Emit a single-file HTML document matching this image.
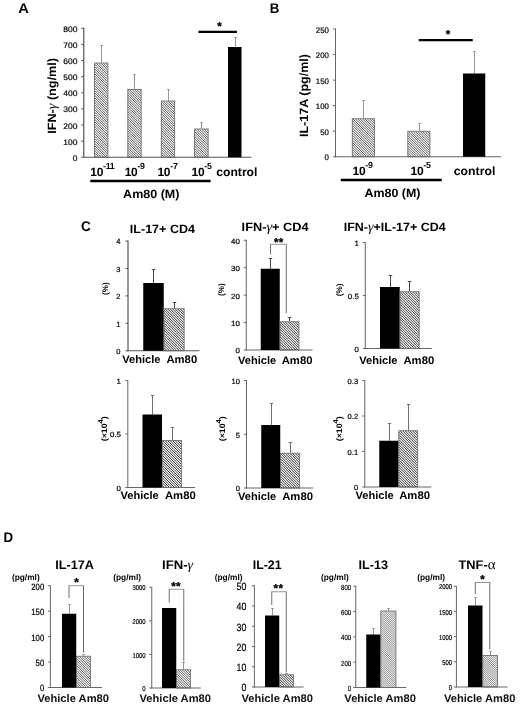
<!DOCTYPE html>
<html lang="en"><head><meta charset="utf-8"><title>Figure</title>
<style>html,body{margin:0;padding:0;background:#fff}svg{display:block}</style>
</head><body>
<svg width="520" height="707" viewBox="0 0 520 707" text-rendering="geometricPrecision" font-family='"Liberation Sans", sans-serif'>
<rect width="520" height="707" fill="#fff"/>
<text x="18.20" y="13.00" font-size="14" font-weight="bold" textLength="10.60" lengthAdjust="spacingAndGlyphs" fill="#000">A</text>
<line x1="83.75" y1="27.75" x2="83.75" y2="157.75" stroke="#555" stroke-width="1.2"/>
<line x1="83.25" y1="157.25" x2="251.50" y2="157.25" stroke="#555" stroke-width="1.2"/>
<line x1="81.25" y1="157.25" x2="83.75" y2="157.25" stroke="#555" stroke-width="1"/>
<text x="77.40" y="160.81" font-size="8" text-anchor="end" textLength="4.70" lengthAdjust="spacingAndGlyphs" fill="#000" stroke="#000" stroke-width="0.2">0</text>
<line x1="81.25" y1="141.12" x2="83.75" y2="141.12" stroke="#555" stroke-width="1"/>
<text x="77.40" y="144.69" font-size="8" text-anchor="end" textLength="14.10" lengthAdjust="spacingAndGlyphs" fill="#000" stroke="#000" stroke-width="0.2">100</text>
<line x1="81.25" y1="125.00" x2="83.75" y2="125.00" stroke="#555" stroke-width="1"/>
<text x="77.40" y="128.56" font-size="8" text-anchor="end" textLength="14.10" lengthAdjust="spacingAndGlyphs" fill="#000" stroke="#000" stroke-width="0.2">200</text>
<line x1="81.25" y1="108.88" x2="83.75" y2="108.88" stroke="#555" stroke-width="1"/>
<text x="77.40" y="112.44" font-size="8" text-anchor="end" textLength="14.10" lengthAdjust="spacingAndGlyphs" fill="#000" stroke="#000" stroke-width="0.2">300</text>
<line x1="81.25" y1="92.75" x2="83.75" y2="92.75" stroke="#555" stroke-width="1"/>
<text x="77.40" y="96.31" font-size="8" text-anchor="end" textLength="14.10" lengthAdjust="spacingAndGlyphs" fill="#000" stroke="#000" stroke-width="0.2">400</text>
<line x1="81.25" y1="76.62" x2="83.75" y2="76.62" stroke="#555" stroke-width="1"/>
<text x="77.40" y="80.19" font-size="8" text-anchor="end" textLength="14.10" lengthAdjust="spacingAndGlyphs" fill="#000" stroke="#000" stroke-width="0.2">500</text>
<line x1="81.25" y1="60.50" x2="83.75" y2="60.50" stroke="#555" stroke-width="1"/>
<text x="77.40" y="64.06" font-size="8" text-anchor="end" textLength="14.10" lengthAdjust="spacingAndGlyphs" fill="#000" stroke="#000" stroke-width="0.2">600</text>
<line x1="81.25" y1="44.38" x2="83.75" y2="44.38" stroke="#555" stroke-width="1"/>
<text x="77.40" y="47.94" font-size="8" text-anchor="end" textLength="14.10" lengthAdjust="spacingAndGlyphs" fill="#000" stroke="#000" stroke-width="0.2">700</text>
<line x1="81.25" y1="28.25" x2="83.75" y2="28.25" stroke="#555" stroke-width="1"/>
<text x="77.40" y="31.81" font-size="8" text-anchor="end" textLength="14.10" lengthAdjust="spacingAndGlyphs" fill="#000" stroke="#000" stroke-width="0.2">800</text>
<line x1="101.50" y1="45.00" x2="101.50" y2="62.50" stroke="#959595" stroke-width="1"/>
<line x1="100.20" y1="45.50" x2="102.80" y2="45.50" stroke="#959595" stroke-width="1"/>
<clipPath id="c1"><rect x="94.55" y="63.00" width="13.35" height="94.25"/></clipPath>
<path d="M0.00,63.00l94.25,94.25M2.40,63.00l94.25,94.25M4.80,63.00l94.25,94.25M7.20,63.00l94.25,94.25M9.60,63.00l94.25,94.25M12.00,63.00l94.25,94.25M14.40,63.00l94.25,94.25M16.80,63.00l94.25,94.25M19.20,63.00l94.25,94.25M21.60,63.00l94.25,94.25M24.00,63.00l94.25,94.25M26.40,63.00l94.25,94.25M28.80,63.00l94.25,94.25M31.20,63.00l94.25,94.25M33.60,63.00l94.25,94.25M36.00,63.00l94.25,94.25M38.40,63.00l94.25,94.25M40.80,63.00l94.25,94.25M43.20,63.00l94.25,94.25M45.60,63.00l94.25,94.25M48.00,63.00l94.25,94.25M50.40,63.00l94.25,94.25M52.80,63.00l94.25,94.25M55.20,63.00l94.25,94.25M57.60,63.00l94.25,94.25M60.00,63.00l94.25,94.25M62.40,63.00l94.25,94.25M64.80,63.00l94.25,94.25M67.20,63.00l94.25,94.25M69.60,63.00l94.25,94.25M72.00,63.00l94.25,94.25M74.40,63.00l94.25,94.25M76.80,63.00l94.25,94.25M79.20,63.00l94.25,94.25M81.60,63.00l94.25,94.25M84.00,63.00l94.25,94.25M86.40,63.00l94.25,94.25M88.80,63.00l94.25,94.25M91.20,63.00l94.25,94.25M93.60,63.00l94.25,94.25M96.00,63.00l94.25,94.25M98.40,63.00l94.25,94.25M100.80,63.00l94.25,94.25M103.20,63.00l94.25,94.25M105.60,63.00l94.25,94.25" stroke="#333" stroke-width="0.8" fill="none" clip-path="url(#c1)"/>
<rect x="94.55" y="63.00" width="13.35" height="94.25" fill="none" stroke="#6e6e6e" stroke-width="0.9"/>
<line x1="134.50" y1="74.00" x2="134.50" y2="89.00" stroke="#959595" stroke-width="1"/>
<line x1="133.20" y1="74.50" x2="135.80" y2="74.50" stroke="#959595" stroke-width="1"/>
<clipPath id="c2"><rect x="127.80" y="89.50" width="13.35" height="67.75"/></clipPath>
<path d="M60.00,89.50l67.75,67.75M62.40,89.50l67.75,67.75M64.80,89.50l67.75,67.75M67.20,89.50l67.75,67.75M69.60,89.50l67.75,67.75M72.00,89.50l67.75,67.75M74.40,89.50l67.75,67.75M76.80,89.50l67.75,67.75M79.20,89.50l67.75,67.75M81.60,89.50l67.75,67.75M84.00,89.50l67.75,67.75M86.40,89.50l67.75,67.75M88.80,89.50l67.75,67.75M91.20,89.50l67.75,67.75M93.60,89.50l67.75,67.75M96.00,89.50l67.75,67.75M98.40,89.50l67.75,67.75M100.80,89.50l67.75,67.75M103.20,89.50l67.75,67.75M105.60,89.50l67.75,67.75M108.00,89.50l67.75,67.75M110.40,89.50l67.75,67.75M112.80,89.50l67.75,67.75M115.20,89.50l67.75,67.75M117.60,89.50l67.75,67.75M120.00,89.50l67.75,67.75M122.40,89.50l67.75,67.75M124.80,89.50l67.75,67.75M127.20,89.50l67.75,67.75M129.60,89.50l67.75,67.75M132.00,89.50l67.75,67.75M134.40,89.50l67.75,67.75M136.80,89.50l67.75,67.75M139.20,89.50l67.75,67.75" stroke="#333" stroke-width="0.8" fill="none" clip-path="url(#c2)"/>
<rect x="127.80" y="89.50" width="13.35" height="67.75" fill="none" stroke="#6e6e6e" stroke-width="0.9"/>
<line x1="168.50" y1="89.00" x2="168.50" y2="100.50" stroke="#959595" stroke-width="1"/>
<line x1="167.20" y1="89.50" x2="169.80" y2="89.50" stroke="#959595" stroke-width="1"/>
<clipPath id="c3"><rect x="161.30" y="101.00" width="13.35" height="56.25"/></clipPath>
<path d="M103.20,101.00l56.25,56.25M105.60,101.00l56.25,56.25M108.00,101.00l56.25,56.25M110.40,101.00l56.25,56.25M112.80,101.00l56.25,56.25M115.20,101.00l56.25,56.25M117.60,101.00l56.25,56.25M120.00,101.00l56.25,56.25M122.40,101.00l56.25,56.25M124.80,101.00l56.25,56.25M127.20,101.00l56.25,56.25M129.60,101.00l56.25,56.25M132.00,101.00l56.25,56.25M134.40,101.00l56.25,56.25M136.80,101.00l56.25,56.25M139.20,101.00l56.25,56.25M141.60,101.00l56.25,56.25M144.00,101.00l56.25,56.25M146.40,101.00l56.25,56.25M148.80,101.00l56.25,56.25M151.20,101.00l56.25,56.25M153.60,101.00l56.25,56.25M156.00,101.00l56.25,56.25M158.40,101.00l56.25,56.25M160.80,101.00l56.25,56.25M163.20,101.00l56.25,56.25M165.60,101.00l56.25,56.25M168.00,101.00l56.25,56.25M170.40,101.00l56.25,56.25M172.80,101.00l56.25,56.25" stroke="#333" stroke-width="0.8" fill="none" clip-path="url(#c3)"/>
<rect x="161.30" y="101.00" width="13.35" height="56.25" fill="none" stroke="#6e6e6e" stroke-width="0.9"/>
<line x1="201.50" y1="122.00" x2="201.50" y2="128.50" stroke="#959595" stroke-width="1"/>
<line x1="200.20" y1="122.50" x2="202.80" y2="122.50" stroke="#959595" stroke-width="1"/>
<clipPath id="c4"><rect x="194.55" y="129.00" width="13.60" height="28.25"/></clipPath>
<path d="M165.60,129.00l28.25,28.25M168.00,129.00l28.25,28.25M170.40,129.00l28.25,28.25M172.80,129.00l28.25,28.25M175.20,129.00l28.25,28.25M177.60,129.00l28.25,28.25M180.00,129.00l28.25,28.25M182.40,129.00l28.25,28.25M184.80,129.00l28.25,28.25M187.20,129.00l28.25,28.25M189.60,129.00l28.25,28.25M192.00,129.00l28.25,28.25M194.40,129.00l28.25,28.25M196.80,129.00l28.25,28.25M199.20,129.00l28.25,28.25M201.60,129.00l28.25,28.25M204.00,129.00l28.25,28.25M206.40,129.00l28.25,28.25" stroke="#333" stroke-width="0.8" fill="none" clip-path="url(#c4)"/>
<rect x="194.55" y="129.00" width="13.60" height="28.25" fill="none" stroke="#6e6e6e" stroke-width="0.9"/>
<line x1="235.50" y1="37.00" x2="235.50" y2="47.00" stroke="#959595" stroke-width="1"/>
<line x1="234.20" y1="37.50" x2="236.80" y2="37.50" stroke="#959595" stroke-width="1"/>
<rect x="228.00" y="47.00" width="13.50" height="110.25" fill="#000"/>
<text x="56.00" y="133.75" font-size="12" font-weight="bold" textLength="75.75" lengthAdjust="spacingAndGlyphs" transform="rotate(-90 56.00 133.75)" fill="#000">IFN-<tspan font-family="Liberation Serif, serif" font-weight="normal" font-style="italic" font-size="13.5">γ</tspan> (ng/ml)</text>
<line x1="198.50" y1="31.90" x2="236.90" y2="31.90" stroke="#000" stroke-width="2.4"/>
<text x="219.40" y="30.39" font-size="11.5" font-weight="bold" text-anchor="middle" fill="#000" stroke="#000" stroke-width="0.35" stroke-linejoin="round">*</text>
<text x="90.30" y="175.90" font-size="12" font-weight="bold" fill="#000" letter-spacing="-0.3">10<tspan font-size="8.8" dy="-6.9">-11</tspan></text>
<text x="124.70" y="175.90" font-size="12" font-weight="bold" fill="#000" letter-spacing="-0.3">10<tspan font-size="8.8" dy="-6.9">-9</tspan></text>
<text x="157.50" y="175.90" font-size="12" font-weight="bold" fill="#000" letter-spacing="-0.3">10<tspan font-size="8.8" dy="-6.9">-7</tspan></text>
<text x="191.60" y="175.90" font-size="12" font-weight="bold" fill="#000" letter-spacing="-0.3">10<tspan font-size="8.8" dy="-6.9">-5</tspan></text>
<text x="216.20" y="175.60" font-size="12" font-weight="bold" textLength="41.25" lengthAdjust="spacingAndGlyphs" fill="#000">control</text>
<line x1="90.30" y1="181.10" x2="210.60" y2="181.10" stroke="#000" stroke-width="2.5"/>
<text x="123.10" y="198.20" font-size="12" font-weight="bold" textLength="56.30" lengthAdjust="spacingAndGlyphs" fill="#000">Am80 (M)</text>
<text x="269.80" y="13.00" font-size="14" font-weight="bold" textLength="9.60" lengthAdjust="spacingAndGlyphs" fill="#000">B</text>
<line x1="335.50" y1="28.50" x2="335.50" y2="157.25" stroke="#666" stroke-width="1.0"/>
<line x1="335.00" y1="156.75" x2="501.25" y2="156.75" stroke="#666" stroke-width="1.0"/>
<line x1="333.00" y1="156.75" x2="335.50" y2="156.75" stroke="#666" stroke-width="1"/>
<text x="329.00" y="160.31" font-size="8" text-anchor="end" textLength="4.38" lengthAdjust="spacingAndGlyphs" fill="#000" stroke="#000" stroke-width="0.2">0</text>
<line x1="333.00" y1="131.20" x2="335.50" y2="131.20" stroke="#666" stroke-width="1"/>
<text x="329.00" y="134.76" font-size="8" text-anchor="end" textLength="8.76" lengthAdjust="spacingAndGlyphs" fill="#000" stroke="#000" stroke-width="0.2">50</text>
<line x1="333.00" y1="105.65" x2="335.50" y2="105.65" stroke="#666" stroke-width="1"/>
<text x="329.00" y="109.21" font-size="8" text-anchor="end" textLength="13.14" lengthAdjust="spacingAndGlyphs" fill="#000" stroke="#000" stroke-width="0.2">100</text>
<line x1="333.00" y1="80.10" x2="335.50" y2="80.10" stroke="#666" stroke-width="1"/>
<text x="329.00" y="83.66" font-size="8" text-anchor="end" textLength="13.14" lengthAdjust="spacingAndGlyphs" fill="#000" stroke="#000" stroke-width="0.2">150</text>
<line x1="333.00" y1="54.55" x2="335.50" y2="54.55" stroke="#666" stroke-width="1"/>
<text x="329.00" y="58.11" font-size="8" text-anchor="end" textLength="13.14" lengthAdjust="spacingAndGlyphs" fill="#000" stroke="#000" stroke-width="0.2">200</text>
<line x1="333.00" y1="29.00" x2="335.50" y2="29.00" stroke="#666" stroke-width="1"/>
<text x="329.00" y="32.56" font-size="8" text-anchor="end" textLength="13.14" lengthAdjust="spacingAndGlyphs" fill="#000" stroke="#000" stroke-width="0.2">250</text>
<line x1="363.50" y1="100.00" x2="363.50" y2="118.25" stroke="#959595" stroke-width="1"/>
<line x1="362.20" y1="100.50" x2="364.80" y2="100.50" stroke="#959595" stroke-width="1"/>
<clipPath id="c5"><rect x="352.30" y="118.75" width="22.10" height="38.00"/></clipPath>
<path d="M312.00,118.75l38.00,38.00M314.40,118.75l38.00,38.00M316.80,118.75l38.00,38.00M319.20,118.75l38.00,38.00M321.60,118.75l38.00,38.00M324.00,118.75l38.00,38.00M326.40,118.75l38.00,38.00M328.80,118.75l38.00,38.00M331.20,118.75l38.00,38.00M333.60,118.75l38.00,38.00M336.00,118.75l38.00,38.00M338.40,118.75l38.00,38.00M340.80,118.75l38.00,38.00M343.20,118.75l38.00,38.00M345.60,118.75l38.00,38.00M348.00,118.75l38.00,38.00M350.40,118.75l38.00,38.00M352.80,118.75l38.00,38.00M355.20,118.75l38.00,38.00M357.60,118.75l38.00,38.00M360.00,118.75l38.00,38.00M362.40,118.75l38.00,38.00M364.80,118.75l38.00,38.00M367.20,118.75l38.00,38.00M369.60,118.75l38.00,38.00M372.00,118.75l38.00,38.00M374.40,118.75l38.00,38.00" stroke="#333" stroke-width="0.8" fill="none" clip-path="url(#c5)"/>
<rect x="352.30" y="118.75" width="22.10" height="38.00" fill="none" stroke="#6e6e6e" stroke-width="0.9"/>
<line x1="419.50" y1="123.00" x2="419.50" y2="130.75" stroke="#959595" stroke-width="1"/>
<line x1="418.20" y1="123.50" x2="420.80" y2="123.50" stroke="#959595" stroke-width="1"/>
<clipPath id="c6"><rect x="407.80" y="131.25" width="22.10" height="25.50"/></clipPath>
<path d="M381.60,131.25l25.50,25.50M384.00,131.25l25.50,25.50M386.40,131.25l25.50,25.50M388.80,131.25l25.50,25.50M391.20,131.25l25.50,25.50M393.60,131.25l25.50,25.50M396.00,131.25l25.50,25.50M398.40,131.25l25.50,25.50M400.80,131.25l25.50,25.50M403.20,131.25l25.50,25.50M405.60,131.25l25.50,25.50M408.00,131.25l25.50,25.50M410.40,131.25l25.50,25.50M412.80,131.25l25.50,25.50M415.20,131.25l25.50,25.50M417.60,131.25l25.50,25.50M420.00,131.25l25.50,25.50M422.40,131.25l25.50,25.50M424.80,131.25l25.50,25.50M427.20,131.25l25.50,25.50M429.60,131.25l25.50,25.50" stroke="#333" stroke-width="0.8" fill="none" clip-path="url(#c6)"/>
<rect x="407.80" y="131.25" width="22.10" height="25.50" fill="none" stroke="#6e6e6e" stroke-width="0.9"/>
<line x1="474.50" y1="51.00" x2="474.50" y2="73.50" stroke="#959595" stroke-width="1"/>
<line x1="473.20" y1="51.50" x2="475.80" y2="51.50" stroke="#959595" stroke-width="1"/>
<rect x="463.00" y="73.50" width="22.25" height="83.25" fill="#000"/>
<text x="308.00" y="137.00" font-size="12" font-weight="bold" textLength="83.00" lengthAdjust="spacingAndGlyphs" transform="rotate(-90 308.00 137.00)" fill="#000">IL-17A (pg/ml)</text>
<line x1="418.75" y1="40.10" x2="472.75" y2="40.10" stroke="#000" stroke-width="2.3"/>
<text x="448.00" y="37.69" font-size="11.5" font-weight="bold" text-anchor="middle" fill="#000" stroke="#000" stroke-width="0.35" stroke-linejoin="round">*</text>
<text x="352.60" y="174.60" font-size="12" font-weight="bold" fill="#000" letter-spacing="-0.3">10<tspan font-size="8.8" dy="-6.9">-9</tspan></text>
<text x="410.60" y="174.80" font-size="12" font-weight="bold" fill="#000" letter-spacing="-0.3">10<tspan font-size="8.8" dy="-6.9">-5</tspan></text>
<text x="453.80" y="174.50" font-size="12" font-weight="bold" textLength="41.50" lengthAdjust="spacingAndGlyphs" fill="#000">control</text>
<line x1="340.75" y1="180.00" x2="441.75" y2="180.00" stroke="#000" stroke-width="2.7"/>
<text x="364.50" y="196.50" font-size="12" font-weight="bold" textLength="56.00" lengthAdjust="spacingAndGlyphs" fill="#000">Am80 (M)</text>
<text x="81.00" y="230.50" font-size="14" font-weight="bold" textLength="9.80" lengthAdjust="spacingAndGlyphs" fill="#000">C</text>
<text x="129.80" y="233.10" font-size="12" font-weight="bold" textLength="65.25" lengthAdjust="spacingAndGlyphs" fill="#000">IL-17+ CD4</text>
<text x="241.60" y="231.40" font-size="12" font-weight="bold" textLength="67.00" lengthAdjust="spacingAndGlyphs" fill="#000">IFN-<tspan font-family="Liberation Serif, serif" font-weight="normal" font-style="italic" font-size="13.5">γ</tspan>+ CD4</text>
<text x="343.70" y="231.30" font-size="12" font-weight="bold" textLength="102.00" lengthAdjust="spacingAndGlyphs" fill="#000">IFN-<tspan font-family="Liberation Serif, serif" font-weight="normal" font-style="italic" font-size="13.5">γ</tspan>+IL-17+ CD4</text>
<line x1="128.00" y1="240.50" x2="128.00" y2="351.25" stroke="#555" stroke-width="1.2"/>
<line x1="127.50" y1="350.75" x2="199.50" y2="350.75" stroke="#555" stroke-width="1.2"/>
<line x1="125.50" y1="350.75" x2="128.00" y2="350.75" stroke="#555" stroke-width="1"/>
<text x="120.30" y="354.13" font-size="7.5" text-anchor="end" fill="#000" stroke="#000" stroke-width="0.2">0</text>
<line x1="125.50" y1="323.31" x2="128.00" y2="323.31" stroke="#555" stroke-width="1"/>
<text x="120.30" y="326.70" font-size="7.5" text-anchor="end" fill="#000" stroke="#000" stroke-width="0.2">1</text>
<line x1="125.50" y1="295.88" x2="128.00" y2="295.88" stroke="#555" stroke-width="1"/>
<text x="120.30" y="299.26" font-size="7.5" text-anchor="end" fill="#000" stroke="#000" stroke-width="0.2">2</text>
<line x1="125.50" y1="268.44" x2="128.00" y2="268.44" stroke="#555" stroke-width="1"/>
<text x="120.30" y="271.82" font-size="7.5" text-anchor="end" fill="#000" stroke="#000" stroke-width="0.2">3</text>
<line x1="125.50" y1="241.00" x2="128.00" y2="241.00" stroke="#555" stroke-width="1"/>
<text x="120.30" y="244.38" font-size="7.5" text-anchor="end" fill="#000" stroke="#000" stroke-width="0.2">4</text>
<line x1="153.50" y1="269.00" x2="153.50" y2="283.00" stroke="#444" stroke-width="1"/>
<line x1="151.80" y1="269.50" x2="155.20" y2="269.50" stroke="#444" stroke-width="1"/>
<rect x="143.25" y="283.00" width="20.50" height="67.75" fill="#000"/>
<line x1="174.50" y1="302.00" x2="174.50" y2="308.25" stroke="#444" stroke-width="1"/>
<line x1="172.80" y1="302.50" x2="176.20" y2="302.50" stroke="#444" stroke-width="1"/>
<clipPath id="c7"><rect x="164.05" y="308.75" width="20.10" height="42.00"/></clipPath>
<path d="M120.00,308.75l42.00,42.00M122.50,308.75l42.00,42.00M125.00,308.75l42.00,42.00M127.50,308.75l42.00,42.00M130.00,308.75l42.00,42.00M132.50,308.75l42.00,42.00M135.00,308.75l42.00,42.00M137.50,308.75l42.00,42.00M140.00,308.75l42.00,42.00M142.50,308.75l42.00,42.00M145.00,308.75l42.00,42.00M147.50,308.75l42.00,42.00M150.00,308.75l42.00,42.00M152.50,308.75l42.00,42.00M155.00,308.75l42.00,42.00M157.50,308.75l42.00,42.00M160.00,308.75l42.00,42.00M162.50,308.75l42.00,42.00M165.00,308.75l42.00,42.00M167.50,308.75l42.00,42.00M170.00,308.75l42.00,42.00M172.50,308.75l42.00,42.00M175.00,308.75l42.00,42.00M177.50,308.75l42.00,42.00M180.00,308.75l42.00,42.00M182.50,308.75l42.00,42.00" stroke="#2a2a2a" stroke-width="0.95" fill="none" clip-path="url(#c7)"/>
<rect x="164.05" y="308.75" width="20.10" height="42.00" fill="none" stroke="#6e6e6e" stroke-width="0.9"/>
<text x="107.60" y="295.00" font-size="8" font-weight="bold" textLength="12.60" lengthAdjust="spacingAndGlyphs" transform="rotate(-90 107.60 295.00)" fill="#000">(%)</text>
<text x="122.30" y="363.00" font-size="11" font-weight="bold" textLength="38.20" lengthAdjust="spacingAndGlyphs" fill="#000">Vehicle</text>
<text x="166.40" y="363.00" font-size="11" font-weight="bold" textLength="30.80" lengthAdjust="spacingAndGlyphs" fill="#000">Am80</text>
<line x1="246.25" y1="239.75" x2="246.25" y2="350.50" stroke="#666" stroke-width="1.0"/>
<line x1="245.75" y1="350.00" x2="312.50" y2="350.00" stroke="#666" stroke-width="1.0"/>
<line x1="243.75" y1="350.00" x2="246.25" y2="350.00" stroke="#666" stroke-width="1"/>
<text x="239.90" y="353.38" font-size="7.5" text-anchor="end" textLength="4.40" lengthAdjust="spacingAndGlyphs" fill="#000" stroke="#000" stroke-width="0.2">0</text>
<line x1="243.75" y1="322.56" x2="246.25" y2="322.56" stroke="#666" stroke-width="1"/>
<text x="239.90" y="325.95" font-size="7.5" text-anchor="end" textLength="8.80" lengthAdjust="spacingAndGlyphs" fill="#000" stroke="#000" stroke-width="0.2">10</text>
<line x1="243.75" y1="295.12" x2="246.25" y2="295.12" stroke="#666" stroke-width="1"/>
<text x="239.90" y="298.51" font-size="7.5" text-anchor="end" textLength="8.80" lengthAdjust="spacingAndGlyphs" fill="#000" stroke="#000" stroke-width="0.2">20</text>
<line x1="243.75" y1="267.69" x2="246.25" y2="267.69" stroke="#666" stroke-width="1"/>
<text x="239.90" y="271.07" font-size="7.5" text-anchor="end" textLength="8.80" lengthAdjust="spacingAndGlyphs" fill="#000" stroke="#000" stroke-width="0.2">30</text>
<line x1="243.75" y1="240.25" x2="246.25" y2="240.25" stroke="#666" stroke-width="1"/>
<text x="239.90" y="243.63" font-size="7.5" text-anchor="end" textLength="8.80" lengthAdjust="spacingAndGlyphs" fill="#000" stroke="#000" stroke-width="0.2">40</text>
<line x1="270.50" y1="258.00" x2="270.50" y2="268.75" stroke="#444" stroke-width="1"/>
<line x1="268.80" y1="258.50" x2="272.20" y2="258.50" stroke="#444" stroke-width="1"/>
<rect x="260.75" y="268.75" width="19.00" height="81.25" fill="#000"/>
<line x1="289.50" y1="317.00" x2="289.50" y2="321.25" stroke="#444" stroke-width="1"/>
<line x1="287.80" y1="317.50" x2="291.20" y2="317.50" stroke="#444" stroke-width="1"/>
<clipPath id="c8"><rect x="280.05" y="321.75" width="18.85" height="28.25"/></clipPath>
<path d="M250.00,321.75l28.25,28.25M252.50,321.75l28.25,28.25M255.00,321.75l28.25,28.25M257.50,321.75l28.25,28.25M260.00,321.75l28.25,28.25M262.50,321.75l28.25,28.25M265.00,321.75l28.25,28.25M267.50,321.75l28.25,28.25M270.00,321.75l28.25,28.25M272.50,321.75l28.25,28.25M275.00,321.75l28.25,28.25M277.50,321.75l28.25,28.25M280.00,321.75l28.25,28.25M282.50,321.75l28.25,28.25M285.00,321.75l28.25,28.25M287.50,321.75l28.25,28.25M290.00,321.75l28.25,28.25M292.50,321.75l28.25,28.25M295.00,321.75l28.25,28.25M297.50,321.75l28.25,28.25" stroke="#2a2a2a" stroke-width="0.95" fill="none" clip-path="url(#c8)"/>
<rect x="280.05" y="321.75" width="18.85" height="28.25" fill="none" stroke="#6e6e6e" stroke-width="0.9"/>
<path d="M270.50,254.50 V244.30 M286.30,244.30 V313.00" fill="none" stroke="#5e5e5e" stroke-width="0.9"/>
<path d="M270.05,244.30 H286.75" fill="none" stroke="#8a8a8a" stroke-width="0.9"/>
<text x="278.75" y="245.79" font-size="11.5" font-weight="bold" text-anchor="middle" fill="#000" stroke="#000" stroke-width="0.35" stroke-linejoin="round" letter-spacing="0.3">**</text>
<text x="224.00" y="296.00" font-size="8" font-weight="bold" textLength="12.60" lengthAdjust="spacingAndGlyphs" transform="rotate(-90 224.00 296.00)" fill="#000">(%)</text>
<text x="237.95" y="363.50" font-size="11" font-weight="bold" textLength="38.20" lengthAdjust="spacingAndGlyphs" fill="#000">Vehicle</text>
<text x="281.70" y="363.50" font-size="11" font-weight="bold" textLength="30.80" lengthAdjust="spacingAndGlyphs" fill="#000">Am80</text>
<line x1="365.30" y1="242.00" x2="365.30" y2="349.00" stroke="#666" stroke-width="1.0"/>
<line x1="364.80" y1="348.50" x2="431.75" y2="348.50" stroke="#666" stroke-width="1.0"/>
<line x1="362.80" y1="348.50" x2="365.30" y2="348.50" stroke="#666" stroke-width="1"/>
<text x="358.80" y="351.88" font-size="7.5" text-anchor="end" textLength="4.40" lengthAdjust="spacingAndGlyphs" fill="#000" stroke="#000" stroke-width="0.2">0</text>
<line x1="362.80" y1="295.50" x2="365.30" y2="295.50" stroke="#666" stroke-width="1"/>
<text x="358.80" y="298.88" font-size="7.5" text-anchor="end" textLength="11.00" lengthAdjust="spacingAndGlyphs" fill="#000" stroke="#000" stroke-width="0.2">0.5</text>
<line x1="362.80" y1="242.50" x2="365.30" y2="242.50" stroke="#666" stroke-width="1"/>
<text x="358.80" y="245.88" font-size="7.5" text-anchor="end" textLength="4.40" lengthAdjust="spacingAndGlyphs" fill="#000" stroke="#000" stroke-width="0.2">1</text>
<line x1="390.50" y1="275.00" x2="390.50" y2="287.00" stroke="#444" stroke-width="1"/>
<line x1="388.80" y1="275.50" x2="392.20" y2="275.50" stroke="#444" stroke-width="1"/>
<rect x="380.00" y="287.00" width="19.75" height="61.50" fill="#000"/>
<line x1="409.50" y1="281.00" x2="409.50" y2="291.25" stroke="#444" stroke-width="1"/>
<line x1="407.80" y1="281.50" x2="411.20" y2="281.50" stroke="#444" stroke-width="1"/>
<clipPath id="c9"><rect x="400.05" y="291.75" width="19.10" height="56.75"/></clipPath>
<path d="M342.50,291.75l56.75,56.75M345.00,291.75l56.75,56.75M347.50,291.75l56.75,56.75M350.00,291.75l56.75,56.75M352.50,291.75l56.75,56.75M355.00,291.75l56.75,56.75M357.50,291.75l56.75,56.75M360.00,291.75l56.75,56.75M362.50,291.75l56.75,56.75M365.00,291.75l56.75,56.75M367.50,291.75l56.75,56.75M370.00,291.75l56.75,56.75M372.50,291.75l56.75,56.75M375.00,291.75l56.75,56.75M377.50,291.75l56.75,56.75M380.00,291.75l56.75,56.75M382.50,291.75l56.75,56.75M385.00,291.75l56.75,56.75M387.50,291.75l56.75,56.75M390.00,291.75l56.75,56.75M392.50,291.75l56.75,56.75M395.00,291.75l56.75,56.75M397.50,291.75l56.75,56.75M400.00,291.75l56.75,56.75M402.50,291.75l56.75,56.75M405.00,291.75l56.75,56.75M407.50,291.75l56.75,56.75M410.00,291.75l56.75,56.75M412.50,291.75l56.75,56.75M415.00,291.75l56.75,56.75M417.50,291.75l56.75,56.75" stroke="#2a2a2a" stroke-width="0.95" fill="none" clip-path="url(#c9)"/>
<rect x="400.05" y="291.75" width="19.10" height="56.75" fill="none" stroke="#6e6e6e" stroke-width="0.9"/>
<text x="342.00" y="296.20" font-size="8" font-weight="bold" textLength="12.60" lengthAdjust="spacingAndGlyphs" transform="rotate(-90 342.00 296.20)" fill="#000">(%)</text>
<text x="359.20" y="363.50" font-size="11" font-weight="bold" textLength="38.20" lengthAdjust="spacingAndGlyphs" fill="#000">Vehicle</text>
<text x="403.45" y="363.50" font-size="11" font-weight="bold" textLength="30.80" lengthAdjust="spacingAndGlyphs" fill="#000">Am80</text>
<line x1="127.80" y1="380.00" x2="127.80" y2="488.00" stroke="#666" stroke-width="1.0"/>
<line x1="127.30" y1="487.50" x2="195.00" y2="487.50" stroke="#666" stroke-width="1.0"/>
<line x1="125.30" y1="487.50" x2="127.80" y2="487.50" stroke="#666" stroke-width="1"/>
<text x="121.00" y="490.88" font-size="7.5" text-anchor="end" textLength="4.40" lengthAdjust="spacingAndGlyphs" fill="#000" stroke="#000" stroke-width="0.2">0</text>
<line x1="125.30" y1="434.00" x2="127.80" y2="434.00" stroke="#666" stroke-width="1"/>
<text x="121.00" y="437.38" font-size="7.5" text-anchor="end" textLength="11.00" lengthAdjust="spacingAndGlyphs" fill="#000" stroke="#000" stroke-width="0.2">0.5</text>
<line x1="125.30" y1="380.50" x2="127.80" y2="380.50" stroke="#666" stroke-width="1"/>
<text x="121.00" y="383.88" font-size="7.5" text-anchor="end" textLength="4.40" lengthAdjust="spacingAndGlyphs" fill="#000" stroke="#000" stroke-width="0.2">1</text>
<line x1="152.50" y1="395.00" x2="152.50" y2="414.50" stroke="#707070" stroke-width="1"/>
<line x1="150.80" y1="395.50" x2="154.20" y2="395.50" stroke="#707070" stroke-width="1"/>
<rect x="142.50" y="414.50" width="19.50" height="73.00" fill="#000"/>
<line x1="172.50" y1="427.00" x2="172.50" y2="440.00" stroke="#707070" stroke-width="1"/>
<line x1="170.80" y1="427.50" x2="174.20" y2="427.50" stroke="#707070" stroke-width="1"/>
<clipPath id="c10"><rect x="162.30" y="440.50" width="19.10" height="47.00"/></clipPath>
<path d="M115.00,440.50l47.00,47.00M117.50,440.50l47.00,47.00M120.00,440.50l47.00,47.00M122.50,440.50l47.00,47.00M125.00,440.50l47.00,47.00M127.50,440.50l47.00,47.00M130.00,440.50l47.00,47.00M132.50,440.50l47.00,47.00M135.00,440.50l47.00,47.00M137.50,440.50l47.00,47.00M140.00,440.50l47.00,47.00M142.50,440.50l47.00,47.00M145.00,440.50l47.00,47.00M147.50,440.50l47.00,47.00M150.00,440.50l47.00,47.00M152.50,440.50l47.00,47.00M155.00,440.50l47.00,47.00M157.50,440.50l47.00,47.00M160.00,440.50l47.00,47.00M162.50,440.50l47.00,47.00M165.00,440.50l47.00,47.00M167.50,440.50l47.00,47.00M170.00,440.50l47.00,47.00M172.50,440.50l47.00,47.00M175.00,440.50l47.00,47.00M177.50,440.50l47.00,47.00M180.00,440.50l47.00,47.00" stroke="#2a2a2a" stroke-width="0.95" fill="none" clip-path="url(#c10)"/>
<rect x="162.30" y="440.50" width="19.10" height="47.00" fill="none" stroke="#6e6e6e" stroke-width="0.9"/>
<text x="107.40" y="441.20" font-size="8" font-weight="bold" textLength="25.00" lengthAdjust="spacingAndGlyphs" transform="rotate(-90 107.40 441.20)" fill="#000">(×10<tspan font-size="7" dy="-4">4</tspan><tspan dy="4">)</tspan></text>
<text x="120.45" y="499.30" font-size="11" font-weight="bold" textLength="38.20" lengthAdjust="spacingAndGlyphs" fill="#000">Vehicle</text>
<text x="164.95" y="499.30" font-size="11" font-weight="bold" textLength="30.80" lengthAdjust="spacingAndGlyphs" fill="#000">Am80</text>
<line x1="246.50" y1="380.00" x2="246.50" y2="488.50" stroke="#666" stroke-width="1.0"/>
<line x1="246.00" y1="488.00" x2="313.25" y2="488.00" stroke="#666" stroke-width="1.0"/>
<line x1="244.00" y1="488.00" x2="246.50" y2="488.00" stroke="#666" stroke-width="1"/>
<text x="239.90" y="491.38" font-size="7.5" text-anchor="end" fill="#000" stroke="#000" stroke-width="0.2">0</text>
<line x1="244.00" y1="434.25" x2="246.50" y2="434.25" stroke="#666" stroke-width="1"/>
<text x="239.90" y="437.63" font-size="7.5" text-anchor="end" fill="#000" stroke="#000" stroke-width="0.2">5</text>
<line x1="244.00" y1="380.50" x2="246.50" y2="380.50" stroke="#666" stroke-width="1"/>
<text x="239.90" y="383.88" font-size="7.5" text-anchor="end" fill="#000" stroke="#000" stroke-width="0.2">10</text>
<line x1="271.50" y1="403.00" x2="271.50" y2="425.00" stroke="#707070" stroke-width="1"/>
<line x1="269.80" y1="403.50" x2="273.20" y2="403.50" stroke="#707070" stroke-width="1"/>
<rect x="261.25" y="425.00" width="19.00" height="63.00" fill="#000"/>
<line x1="290.50" y1="442.00" x2="290.50" y2="452.75" stroke="#707070" stroke-width="1"/>
<line x1="288.80" y1="442.50" x2="292.20" y2="442.50" stroke="#707070" stroke-width="1"/>
<clipPath id="c11"><rect x="280.55" y="453.25" width="18.85" height="34.75"/></clipPath>
<path d="M245.00,453.25l34.75,34.75M247.50,453.25l34.75,34.75M250.00,453.25l34.75,34.75M252.50,453.25l34.75,34.75M255.00,453.25l34.75,34.75M257.50,453.25l34.75,34.75M260.00,453.25l34.75,34.75M262.50,453.25l34.75,34.75M265.00,453.25l34.75,34.75M267.50,453.25l34.75,34.75M270.00,453.25l34.75,34.75M272.50,453.25l34.75,34.75M275.00,453.25l34.75,34.75M277.50,453.25l34.75,34.75M280.00,453.25l34.75,34.75M282.50,453.25l34.75,34.75M285.00,453.25l34.75,34.75M287.50,453.25l34.75,34.75M290.00,453.25l34.75,34.75M292.50,453.25l34.75,34.75M295.00,453.25l34.75,34.75M297.50,453.25l34.75,34.75" stroke="#2a2a2a" stroke-width="0.95" fill="none" clip-path="url(#c11)"/>
<rect x="280.55" y="453.25" width="18.85" height="34.75" fill="none" stroke="#6e6e6e" stroke-width="0.9"/>
<text x="225.40" y="441.20" font-size="8" font-weight="bold" textLength="25.00" lengthAdjust="spacingAndGlyphs" transform="rotate(-90 225.40 441.20)" fill="#000">(×10<tspan font-size="7" dy="-4">4</tspan><tspan dy="4">)</tspan></text>
<text x="237.95" y="500.25" font-size="11" font-weight="bold" textLength="38.20" lengthAdjust="spacingAndGlyphs" fill="#000">Vehicle</text>
<text x="282.20" y="500.25" font-size="11" font-weight="bold" textLength="30.80" lengthAdjust="spacingAndGlyphs" fill="#000">Am80</text>
<line x1="364.80" y1="380.00" x2="364.80" y2="487.50" stroke="#666" stroke-width="1.0"/>
<line x1="364.30" y1="487.00" x2="431.25" y2="487.00" stroke="#666" stroke-width="1.0"/>
<line x1="362.30" y1="487.00" x2="364.80" y2="487.00" stroke="#666" stroke-width="1"/>
<text x="358.10" y="490.38" font-size="7.5" text-anchor="end" textLength="4.20" lengthAdjust="spacingAndGlyphs" fill="#000" stroke="#000" stroke-width="0.2">0</text>
<line x1="362.30" y1="451.50" x2="364.80" y2="451.50" stroke="#666" stroke-width="1"/>
<text x="358.10" y="454.88" font-size="7.5" text-anchor="end" textLength="10.50" lengthAdjust="spacingAndGlyphs" fill="#000" stroke="#000" stroke-width="0.2">0.1</text>
<line x1="362.30" y1="416.00" x2="364.80" y2="416.00" stroke="#666" stroke-width="1"/>
<text x="358.10" y="419.38" font-size="7.5" text-anchor="end" textLength="10.50" lengthAdjust="spacingAndGlyphs" fill="#000" stroke="#000" stroke-width="0.2">0.2</text>
<line x1="362.30" y1="380.50" x2="364.80" y2="380.50" stroke="#666" stroke-width="1"/>
<text x="358.10" y="383.88" font-size="7.5" text-anchor="end" textLength="10.50" lengthAdjust="spacingAndGlyphs" fill="#000" stroke="#000" stroke-width="0.2">0.3</text>
<line x1="389.50" y1="423.00" x2="389.50" y2="440.75" stroke="#707070" stroke-width="1"/>
<line x1="387.80" y1="423.50" x2="391.20" y2="423.50" stroke="#707070" stroke-width="1"/>
<rect x="379.25" y="440.75" width="19.25" height="46.25" fill="#000"/>
<line x1="408.50" y1="404.00" x2="408.50" y2="430.25" stroke="#707070" stroke-width="1"/>
<line x1="406.80" y1="404.50" x2="410.20" y2="404.50" stroke="#707070" stroke-width="1"/>
<clipPath id="c12"><rect x="398.80" y="430.75" width="18.85" height="56.25"/></clipPath>
<path d="M342.50,430.75l56.25,56.25M345.00,430.75l56.25,56.25M347.50,430.75l56.25,56.25M350.00,430.75l56.25,56.25M352.50,430.75l56.25,56.25M355.00,430.75l56.25,56.25M357.50,430.75l56.25,56.25M360.00,430.75l56.25,56.25M362.50,430.75l56.25,56.25M365.00,430.75l56.25,56.25M367.50,430.75l56.25,56.25M370.00,430.75l56.25,56.25M372.50,430.75l56.25,56.25M375.00,430.75l56.25,56.25M377.50,430.75l56.25,56.25M380.00,430.75l56.25,56.25M382.50,430.75l56.25,56.25M385.00,430.75l56.25,56.25M387.50,430.75l56.25,56.25M390.00,430.75l56.25,56.25M392.50,430.75l56.25,56.25M395.00,430.75l56.25,56.25M397.50,430.75l56.25,56.25M400.00,430.75l56.25,56.25M402.50,430.75l56.25,56.25M405.00,430.75l56.25,56.25M407.50,430.75l56.25,56.25M410.00,430.75l56.25,56.25M412.50,430.75l56.25,56.25M415.00,430.75l56.25,56.25M417.50,430.75l56.25,56.25" stroke="#2a2a2a" stroke-width="0.95" fill="none" clip-path="url(#c12)"/>
<rect x="398.80" y="430.75" width="18.85" height="56.25" fill="none" stroke="#6e6e6e" stroke-width="0.9"/>
<text x="342.00" y="441.20" font-size="8" font-weight="bold" textLength="25.00" lengthAdjust="spacingAndGlyphs" transform="rotate(-90 342.00 441.20)" fill="#000">(×10<tspan font-size="7" dy="-4">4</tspan><tspan dy="4">)</tspan></text>
<text x="355.45" y="499.25" font-size="11" font-weight="bold" textLength="38.20" lengthAdjust="spacingAndGlyphs" fill="#000">Vehicle</text>
<text x="399.20" y="499.25" font-size="11" font-weight="bold" textLength="30.80" lengthAdjust="spacingAndGlyphs" fill="#000">Am80</text>
<text x="3.40" y="541.50" font-size="14" font-weight="bold" textLength="9.60" lengthAdjust="spacingAndGlyphs" fill="#000">D</text>
<text x="55.20" y="569.00" font-size="12.5" font-weight="bold" textLength="38.80" lengthAdjust="spacingAndGlyphs" fill="#000">IL-17A</text>
<text x="11.90" y="579.60" font-size="8.3" font-weight="bold" textLength="27.80" lengthAdjust="spacingAndGlyphs" fill="#000">(pg/ml)</text>
<line x1="50.40" y1="585.25" x2="50.40" y2="688.00" stroke="#666" stroke-width="1.0"/>
<line x1="49.90" y1="687.50" x2="102.00" y2="687.50" stroke="#666" stroke-width="1.0"/>
<line x1="47.90" y1="687.50" x2="50.40" y2="687.50" stroke="#666" stroke-width="1"/>
<text x="44.20" y="691.42" font-size="9" text-anchor="end" textLength="4.30" lengthAdjust="spacingAndGlyphs" fill="#000" stroke="#000" stroke-width="0.2">0</text>
<line x1="47.90" y1="662.06" x2="50.40" y2="662.06" stroke="#666" stroke-width="1"/>
<text x="44.20" y="665.98" font-size="9" text-anchor="end" textLength="8.60" lengthAdjust="spacingAndGlyphs" fill="#000" stroke="#000" stroke-width="0.2">50</text>
<line x1="47.90" y1="636.62" x2="50.40" y2="636.62" stroke="#666" stroke-width="1"/>
<text x="44.20" y="640.55" font-size="9" text-anchor="end" textLength="12.90" lengthAdjust="spacingAndGlyphs" fill="#000" stroke="#000" stroke-width="0.2">100</text>
<line x1="47.90" y1="611.19" x2="50.40" y2="611.19" stroke="#666" stroke-width="1"/>
<text x="44.20" y="615.11" font-size="9" text-anchor="end" textLength="12.90" lengthAdjust="spacingAndGlyphs" fill="#000" stroke="#000" stroke-width="0.2">150</text>
<line x1="47.90" y1="585.75" x2="50.40" y2="585.75" stroke="#666" stroke-width="1"/>
<text x="44.20" y="589.67" font-size="9" text-anchor="end" textLength="12.90" lengthAdjust="spacingAndGlyphs" fill="#000" stroke="#000" stroke-width="0.2">200</text>
<line x1="69.50" y1="604.00" x2="69.50" y2="613.75" stroke="#959595" stroke-width="1"/>
<line x1="68.20" y1="604.50" x2="70.80" y2="604.50" stroke="#959595" stroke-width="1"/>
<rect x="62.00" y="613.75" width="14.25" height="73.75" fill="#000"/>
<line x1="83.50" y1="654.00" x2="83.50" y2="655.75" stroke="#959595" stroke-width="1"/>
<line x1="82.20" y1="654.50" x2="84.80" y2="654.50" stroke="#959595" stroke-width="1"/>
<clipPath id="c13"><rect x="76.55" y="656.25" width="13.85" height="31.25"/></clipPath>
<path d="M43.20,656.25l31.25,31.25M45.60,656.25l31.25,31.25M48.00,656.25l31.25,31.25M50.40,656.25l31.25,31.25M52.80,656.25l31.25,31.25M55.20,656.25l31.25,31.25M57.60,656.25l31.25,31.25M60.00,656.25l31.25,31.25M62.40,656.25l31.25,31.25M64.80,656.25l31.25,31.25M67.20,656.25l31.25,31.25M69.60,656.25l31.25,31.25M72.00,656.25l31.25,31.25M74.40,656.25l31.25,31.25M76.80,656.25l31.25,31.25M79.20,656.25l31.25,31.25M81.60,656.25l31.25,31.25M84.00,656.25l31.25,31.25M86.40,656.25l31.25,31.25M88.80,656.25l31.25,31.25" stroke="#333" stroke-width="0.8" fill="none" clip-path="url(#c13)"/>
<rect x="76.55" y="656.25" width="13.85" height="31.25" fill="none" stroke="#6e6e6e" stroke-width="0.9"/>
<path d="M69.00,598.00 V585.70 M83.50,585.70 V652.50" fill="none" stroke="#5e5e5e" stroke-width="0.9"/>
<path d="M68.55,585.70 H83.95" fill="none" stroke="#8a8a8a" stroke-width="0.9"/>
<text x="76.60" y="586.29" font-size="11.5" font-weight="bold" text-anchor="middle" fill="#000" stroke="#000" stroke-width="0.35" stroke-linejoin="round">*</text>
<text x="37.40" y="701.50" font-size="11" font-weight="bold" textLength="71.60" lengthAdjust="spacingAndGlyphs" fill="#111">Vehicle Am80</text>
<text x="162.00" y="569.00" font-size="12.5" font-weight="bold" textLength="31.20" lengthAdjust="spacingAndGlyphs" fill="#000">IFN-<tspan font-family="Liberation Serif, serif" font-weight="normal" font-style="italic" font-size="13.5">γ</tspan></text>
<text x="113.25" y="579.60" font-size="8.3" font-weight="bold" textLength="27.80" lengthAdjust="spacingAndGlyphs" fill="#000">(pg/ml)</text>
<line x1="151.75" y1="586.75" x2="151.75" y2="688.50" stroke="#666" stroke-width="1.0"/>
<line x1="151.25" y1="688.00" x2="200.75" y2="688.00" stroke="#666" stroke-width="1.0"/>
<line x1="149.25" y1="688.00" x2="151.75" y2="688.00" stroke="#666" stroke-width="1"/>
<text x="145.60" y="691.21" font-size="7" text-anchor="end" textLength="3.28" lengthAdjust="spacingAndGlyphs" fill="#000" stroke="#000" stroke-width="0.2">0</text>
<line x1="149.25" y1="654.42" x2="151.75" y2="654.42" stroke="#666" stroke-width="1"/>
<text x="145.60" y="657.62" font-size="7" text-anchor="end" textLength="13.12" lengthAdjust="spacingAndGlyphs" fill="#000" stroke="#000" stroke-width="0.2">1000</text>
<line x1="149.25" y1="620.83" x2="151.75" y2="620.83" stroke="#666" stroke-width="1"/>
<text x="145.60" y="624.04" font-size="7" text-anchor="end" textLength="13.12" lengthAdjust="spacingAndGlyphs" fill="#000" stroke="#000" stroke-width="0.2">2000</text>
<line x1="149.25" y1="587.25" x2="151.75" y2="587.25" stroke="#666" stroke-width="1"/>
<text x="145.60" y="590.46" font-size="7" text-anchor="end" textLength="13.12" lengthAdjust="spacingAndGlyphs" fill="#000" stroke="#000" stroke-width="0.2">3000</text>
<rect x="162.00" y="608.00" width="14.25" height="80.00" fill="#000"/>
<line x1="183.50" y1="662.00" x2="183.50" y2="669.25" stroke="#959595" stroke-width="1"/>
<line x1="182.20" y1="662.50" x2="184.80" y2="662.50" stroke="#959595" stroke-width="1"/>
<clipPath id="c14"><rect x="176.55" y="669.75" width="13.85" height="18.25"/></clipPath>
<path d="M156.00,669.75l18.25,18.25M158.40,669.75l18.25,18.25M160.80,669.75l18.25,18.25M163.20,669.75l18.25,18.25M165.60,669.75l18.25,18.25M168.00,669.75l18.25,18.25M170.40,669.75l18.25,18.25M172.80,669.75l18.25,18.25M175.20,669.75l18.25,18.25M177.60,669.75l18.25,18.25M180.00,669.75l18.25,18.25M182.40,669.75l18.25,18.25M184.80,669.75l18.25,18.25M187.20,669.75l18.25,18.25M189.60,669.75l18.25,18.25" stroke="#333" stroke-width="0.8" fill="none" clip-path="url(#c14)"/>
<rect x="176.55" y="669.75" width="13.85" height="18.25" fill="none" stroke="#6e6e6e" stroke-width="0.9"/>
<path d="M169.25,602.50 V589.25 M183.75,589.25 V661.25" fill="none" stroke="#5e5e5e" stroke-width="0.9"/>
<path d="M168.80,589.25 H184.20" fill="none" stroke="#8a8a8a" stroke-width="0.9"/>
<text x="176.00" y="590.29" font-size="11.5" font-weight="bold" text-anchor="middle" fill="#000" stroke="#000" stroke-width="0.35" stroke-linejoin="round" letter-spacing="0.3">**</text>
<text x="139.50" y="701.50" font-size="11" font-weight="bold" textLength="71.50" lengthAdjust="spacingAndGlyphs" fill="#111">Vehicle Am80</text>
<text x="252.80" y="569.00" font-size="12.5" font-weight="bold" textLength="28.80" lengthAdjust="spacingAndGlyphs" fill="#000">IL-21</text>
<text x="214.75" y="579.60" font-size="8.3" font-weight="bold" textLength="27.80" lengthAdjust="spacingAndGlyphs" fill="#000">(pg/ml)</text>
<line x1="254.40" y1="585.25" x2="254.40" y2="687.50" stroke="#666" stroke-width="1.0"/>
<line x1="253.90" y1="687.00" x2="303.60" y2="687.00" stroke="#666" stroke-width="1.0"/>
<line x1="251.90" y1="687.00" x2="254.40" y2="687.00" stroke="#666" stroke-width="1"/>
<text x="246.40" y="691.46" font-size="10.5" text-anchor="end" textLength="4.90" lengthAdjust="spacingAndGlyphs" fill="#000" stroke="#000" stroke-width="0.2">0</text>
<line x1="251.90" y1="666.75" x2="254.40" y2="666.75" stroke="#666" stroke-width="1"/>
<text x="246.40" y="671.21" font-size="10.5" text-anchor="end" textLength="9.80" lengthAdjust="spacingAndGlyphs" fill="#000" stroke="#000" stroke-width="0.2">10</text>
<line x1="251.90" y1="646.50" x2="254.40" y2="646.50" stroke="#666" stroke-width="1"/>
<text x="246.40" y="650.96" font-size="10.5" text-anchor="end" textLength="9.80" lengthAdjust="spacingAndGlyphs" fill="#000" stroke="#000" stroke-width="0.2">20</text>
<line x1="251.90" y1="626.25" x2="254.40" y2="626.25" stroke="#666" stroke-width="1"/>
<text x="246.40" y="630.71" font-size="10.5" text-anchor="end" textLength="9.80" lengthAdjust="spacingAndGlyphs" fill="#000" stroke="#000" stroke-width="0.2">30</text>
<line x1="251.90" y1="606.00" x2="254.40" y2="606.00" stroke="#666" stroke-width="1"/>
<text x="246.40" y="610.46" font-size="10.5" text-anchor="end" textLength="9.80" lengthAdjust="spacingAndGlyphs" fill="#000" stroke="#000" stroke-width="0.2">40</text>
<line x1="251.90" y1="585.75" x2="254.40" y2="585.75" stroke="#666" stroke-width="1"/>
<text x="246.40" y="590.21" font-size="10.5" text-anchor="end" textLength="9.80" lengthAdjust="spacingAndGlyphs" fill="#000" stroke="#000" stroke-width="0.2">50</text>
<line x1="272.50" y1="608.00" x2="272.50" y2="615.50" stroke="#959595" stroke-width="1"/>
<line x1="271.20" y1="608.50" x2="273.80" y2="608.50" stroke="#959595" stroke-width="1"/>
<rect x="265.00" y="615.50" width="14.25" height="71.50" fill="#000"/>
<line x1="286.50" y1="673.00" x2="286.50" y2="674.25" stroke="#959595" stroke-width="1"/>
<line x1="285.20" y1="673.50" x2="287.80" y2="673.50" stroke="#959595" stroke-width="1"/>
<clipPath id="c15"><rect x="279.55" y="674.75" width="13.85" height="12.25"/></clipPath>
<path d="M265.00,674.75l12.25,12.25M267.50,674.75l12.25,12.25M270.00,674.75l12.25,12.25M272.50,674.75l12.25,12.25M275.00,674.75l12.25,12.25M277.50,674.75l12.25,12.25M280.00,674.75l12.25,12.25M282.50,674.75l12.25,12.25M285.00,674.75l12.25,12.25M287.50,674.75l12.25,12.25M290.00,674.75l12.25,12.25M292.50,674.75l12.25,12.25" stroke="#2a2a2a" stroke-width="0.95" fill="none" clip-path="url(#c15)"/>
<rect x="279.55" y="674.75" width="13.85" height="12.25" fill="none" stroke="#6e6e6e" stroke-width="0.9"/>
<path d="M271.75,605.00 V591.75 M286.25,591.75 V672.50" fill="none" stroke="#5e5e5e" stroke-width="0.9"/>
<path d="M271.30,591.75 H286.70" fill="none" stroke="#8a8a8a" stroke-width="0.9"/>
<text x="278.40" y="592.44" font-size="11.5" font-weight="bold" text-anchor="middle" fill="#000" stroke="#000" stroke-width="0.35" stroke-linejoin="round" letter-spacing="0.3">**</text>
<text x="241.40" y="701.50" font-size="11" font-weight="bold" textLength="71.60" lengthAdjust="spacingAndGlyphs" fill="#111">Vehicle Am80</text>
<text x="358.50" y="569.00" font-size="12.5" font-weight="bold" textLength="29.50" lengthAdjust="spacingAndGlyphs" fill="#000">IL-13</text>
<text x="321.00" y="579.60" font-size="8.3" font-weight="bold" textLength="27.80" lengthAdjust="spacingAndGlyphs" fill="#000">(pg/ml)</text>
<line x1="355.75" y1="585.75" x2="355.75" y2="688.00" stroke="#666" stroke-width="1.0"/>
<line x1="355.25" y1="687.50" x2="406.25" y2="687.50" stroke="#666" stroke-width="1.0"/>
<line x1="353.25" y1="687.50" x2="355.75" y2="687.50" stroke="#666" stroke-width="1"/>
<text x="351.10" y="690.88" font-size="7.5" text-anchor="end" textLength="3.33" lengthAdjust="spacingAndGlyphs" fill="#000" stroke="#000" stroke-width="0.2">0</text>
<line x1="353.25" y1="662.19" x2="355.75" y2="662.19" stroke="#666" stroke-width="1"/>
<text x="351.10" y="665.57" font-size="7.5" text-anchor="end" textLength="9.99" lengthAdjust="spacingAndGlyphs" fill="#000" stroke="#000" stroke-width="0.2">200</text>
<line x1="353.25" y1="636.88" x2="355.75" y2="636.88" stroke="#666" stroke-width="1"/>
<text x="351.10" y="640.26" font-size="7.5" text-anchor="end" textLength="9.99" lengthAdjust="spacingAndGlyphs" fill="#000" stroke="#000" stroke-width="0.2">400</text>
<line x1="353.25" y1="611.56" x2="355.75" y2="611.56" stroke="#666" stroke-width="1"/>
<text x="351.10" y="614.95" font-size="7.5" text-anchor="end" textLength="9.99" lengthAdjust="spacingAndGlyphs" fill="#000" stroke="#000" stroke-width="0.2">600</text>
<line x1="353.25" y1="586.25" x2="355.75" y2="586.25" stroke="#666" stroke-width="1"/>
<text x="351.10" y="589.63" font-size="7.5" text-anchor="end" textLength="9.99" lengthAdjust="spacingAndGlyphs" fill="#000" stroke="#000" stroke-width="0.2">800</text>
<line x1="373.50" y1="628.00" x2="373.50" y2="634.50" stroke="#959595" stroke-width="1"/>
<line x1="372.20" y1="628.50" x2="374.80" y2="628.50" stroke="#959595" stroke-width="1"/>
<rect x="366.25" y="634.50" width="14.25" height="53.00" fill="#000"/>
<line x1="388.50" y1="608.00" x2="388.50" y2="610.50" stroke="#959595" stroke-width="1"/>
<line x1="387.20" y1="608.50" x2="389.80" y2="608.50" stroke="#959595" stroke-width="1"/>
<clipPath id="c16"><rect x="380.80" y="611.00" width="15.10" height="76.50"/></clipPath>
<path d="M304.00,611.00l76.50,76.50M305.90,611.00l76.50,76.50M307.80,611.00l76.50,76.50M309.70,611.00l76.50,76.50M311.60,611.00l76.50,76.50M313.50,611.00l76.50,76.50M315.40,611.00l76.50,76.50M317.30,611.00l76.50,76.50M319.20,611.00l76.50,76.50M321.10,611.00l76.50,76.50M323.00,611.00l76.50,76.50M324.90,611.00l76.50,76.50M326.80,611.00l76.50,76.50M328.70,611.00l76.50,76.50M330.60,611.00l76.50,76.50M332.50,611.00l76.50,76.50M334.40,611.00l76.50,76.50M336.30,611.00l76.50,76.50M338.20,611.00l76.50,76.50M340.10,611.00l76.50,76.50M342.00,611.00l76.50,76.50M343.90,611.00l76.50,76.50M345.80,611.00l76.50,76.50M347.70,611.00l76.50,76.50M349.60,611.00l76.50,76.50M351.50,611.00l76.50,76.50M353.40,611.00l76.50,76.50M355.30,611.00l76.50,76.50M357.20,611.00l76.50,76.50M359.10,611.00l76.50,76.50M361.00,611.00l76.50,76.50M362.90,611.00l76.50,76.50M364.80,611.00l76.50,76.50M366.70,611.00l76.50,76.50M368.60,611.00l76.50,76.50M370.50,611.00l76.50,76.50M372.40,611.00l76.50,76.50M374.30,611.00l76.50,76.50M376.20,611.00l76.50,76.50M378.10,611.00l76.50,76.50M380.00,611.00l76.50,76.50M381.90,611.00l76.50,76.50M383.80,611.00l76.50,76.50M385.70,611.00l76.50,76.50M387.60,611.00l76.50,76.50M389.50,611.00l76.50,76.50M391.40,611.00l76.50,76.50M393.30,611.00l76.50,76.50M395.20,611.00l76.50,76.50" stroke="#444" stroke-width="0.6" fill="none" clip-path="url(#c16)"/>
<rect x="380.80" y="611.00" width="15.10" height="76.50" fill="none" stroke="#6e6e6e" stroke-width="0.9"/>
<text x="344.30" y="701.50" font-size="11" font-weight="bold" textLength="71.70" lengthAdjust="spacingAndGlyphs" fill="#111">Vehicle Am80</text>
<text x="458.50" y="569.00" font-size="12.5" font-weight="bold" textLength="37.00" lengthAdjust="spacingAndGlyphs" fill="#000">TNF-<tspan font-family="Liberation Serif, serif" font-weight="normal" font-size="14.5">α</tspan></text>
<text x="417.25" y="579.60" font-size="8.3" font-weight="bold" textLength="27.80" lengthAdjust="spacingAndGlyphs" fill="#000">(pg/ml)</text>
<line x1="456.40" y1="585.75" x2="456.40" y2="687.50" stroke="#666" stroke-width="1.0"/>
<line x1="455.90" y1="687.00" x2="507.50" y2="687.00" stroke="#666" stroke-width="1.0"/>
<line x1="453.90" y1="687.00" x2="456.40" y2="687.00" stroke="#666" stroke-width="1"/>
<text x="452.10" y="690.21" font-size="7" text-anchor="end" textLength="3.28" lengthAdjust="spacingAndGlyphs" fill="#000" stroke="#000" stroke-width="0.2">0</text>
<line x1="453.90" y1="661.81" x2="456.40" y2="661.81" stroke="#666" stroke-width="1"/>
<text x="452.10" y="665.02" font-size="7" text-anchor="end" textLength="9.84" lengthAdjust="spacingAndGlyphs" fill="#000" stroke="#000" stroke-width="0.2">500</text>
<line x1="453.90" y1="636.62" x2="456.40" y2="636.62" stroke="#666" stroke-width="1"/>
<text x="452.10" y="639.83" font-size="7" text-anchor="end" textLength="13.12" lengthAdjust="spacingAndGlyphs" fill="#000" stroke="#000" stroke-width="0.2">1000</text>
<line x1="453.90" y1="611.44" x2="456.40" y2="611.44" stroke="#666" stroke-width="1"/>
<text x="452.10" y="614.64" font-size="7" text-anchor="end" textLength="13.12" lengthAdjust="spacingAndGlyphs" fill="#000" stroke="#000" stroke-width="0.2">1500</text>
<line x1="453.90" y1="586.25" x2="456.40" y2="586.25" stroke="#666" stroke-width="1"/>
<text x="452.10" y="589.46" font-size="7" text-anchor="end" textLength="13.12" lengthAdjust="spacingAndGlyphs" fill="#000" stroke="#000" stroke-width="0.2">2000</text>
<line x1="475.50" y1="597.00" x2="475.50" y2="605.50" stroke="#959595" stroke-width="1"/>
<line x1="474.20" y1="597.50" x2="476.80" y2="597.50" stroke="#959595" stroke-width="1"/>
<rect x="468.00" y="605.50" width="14.50" height="81.50" fill="#000"/>
<line x1="490.50" y1="651.00" x2="490.50" y2="655.00" stroke="#959595" stroke-width="1"/>
<line x1="489.20" y1="651.50" x2="491.80" y2="651.50" stroke="#959595" stroke-width="1"/>
<clipPath id="c17"><rect x="482.80" y="655.50" width="14.70" height="31.50"/></clipPath>
<path d="M450.30,655.50l31.50,31.50M452.20,655.50l31.50,31.50M454.10,655.50l31.50,31.50M456.00,655.50l31.50,31.50M457.90,655.50l31.50,31.50M459.80,655.50l31.50,31.50M461.70,655.50l31.50,31.50M463.60,655.50l31.50,31.50M465.50,655.50l31.50,31.50M467.40,655.50l31.50,31.50M469.30,655.50l31.50,31.50M471.20,655.50l31.50,31.50M473.10,655.50l31.50,31.50M475.00,655.50l31.50,31.50M476.90,655.50l31.50,31.50M478.80,655.50l31.50,31.50M480.70,655.50l31.50,31.50M482.60,655.50l31.50,31.50M484.50,655.50l31.50,31.50M486.40,655.50l31.50,31.50M488.30,655.50l31.50,31.50M490.20,655.50l31.50,31.50M492.10,655.50l31.50,31.50M494.00,655.50l31.50,31.50M495.90,655.50l31.50,31.50" stroke="#444" stroke-width="0.6" fill="none" clip-path="url(#c17)"/>
<rect x="482.80" y="655.50" width="14.70" height="31.50" fill="none" stroke="#6e6e6e" stroke-width="0.9"/>
<path d="M475.30,594.00 V582.50 M489.80,582.50 V649.50" fill="none" stroke="#5e5e5e" stroke-width="0.9"/>
<path d="M474.85,582.50 H490.25" fill="none" stroke="#8a8a8a" stroke-width="0.9"/>
<text x="482.40" y="583.44" font-size="11.5" font-weight="bold" text-anchor="middle" fill="#000" stroke="#000" stroke-width="0.35" stroke-linejoin="round">*</text>
<text x="443.90" y="701.50" font-size="11" font-weight="bold" textLength="71.50" lengthAdjust="spacingAndGlyphs" fill="#111">Vehicle Am80</text>
</svg>
</body></html>
